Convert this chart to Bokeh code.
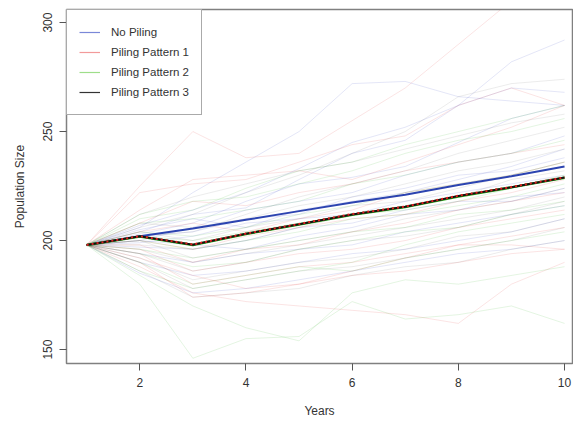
from bokeh.plotting import figure
from bokeh.models import FixedTicker, Legend, LegendItem, Range1d
from bokeh.embed import file_html
from bokeh.resources import INLINE
import numpy as np

years = [1, 2, 3, 4, 5, 6, 7, 8, 9, 10]

# Mean trajectories
mean_no_piling = [198, 202, 205.5, 209.5, 213.5, 217.5, 221, 225.5, 229.5, 234]
mean_pattern1 = [198, 202, 198.2, 203.2, 207.6, 212.2, 215.6, 220.6, 224.6, 229]
mean_pattern2 = [198, 201.8, 198, 203, 207.4, 211.8, 215.4, 220.2, 224.4, 228.8]
mean_pattern3 = [198, 202, 198.1, 203.1, 207.5, 212, 215.5, 220.4, 224.5, 228.9]

# Individual simulation runs (faint lines)
runs_no_piling = [
    [198, 207, 214, 222, 233, 245, 252, 262, 282, 292],
    [198, 204, 212, 215, 228, 240, 246, 262, 270, 268],
    [198, 203, 208, 218, 226, 229, 234, 245, 256, 262],
    [198, 200, 206, 214, 218, 222, 230, 236, 240, 248],
    [198, 202, 204, 210, 212, 220, 224, 230, 232, 238],
    [198, 205, 210, 206, 214, 218, 222, 228, 234, 242],
    [198, 199, 202, 208, 210, 212, 218, 222, 226, 230],
    [198, 197, 196, 200, 206, 208, 214, 218, 218, 224],
    [198, 200, 198, 196, 202, 206, 212, 214, 220, 222],
    [198, 194, 190, 194, 196, 198, 204, 208, 212, 216],
    [198, 190, 184, 186, 190, 194, 196, 200, 204, 210],
    [198, 185, 176, 178, 182, 186, 190, 194, 196, 200],
    [198, 206, 222, 236, 250, 272, 273, 266, 264, 262],
]
runs_pattern1 = [
    [198, 225, 250, 238, 240, 255, 270, 290, 310, 330],
    [198, 222, 226, 228, 236, 244, 248, 262, 270, 262],
    [198, 214, 228, 230, 232, 228, 236, 244, 252, 262],
    [198, 208, 218, 216, 222, 226, 232, 236, 240, 244],
    [198, 204, 208, 204, 210, 214, 222, 226, 230, 236],
    [198, 200, 196, 202, 206, 210, 212, 218, 222, 228],
    [198, 198, 190, 196, 198, 204, 208, 214, 218, 222],
    [198, 196, 186, 190, 194, 196, 200, 206, 210, 214],
    [198, 194, 180, 184, 188, 190, 194, 198, 202, 206],
    [198, 190, 174, 176, 180, 184, 186, 190, 194, 196],
    [198, 188, 176, 172, 170, 168, 166, 162, 180, 190],
    [198, 192, 184, 178, 180, 186, 192, 198, 198, 196],
]
runs_pattern2 = [
    [198, 180, 146, 155, 156, 172, 164, 166, 170, 162],
    [198, 184, 170, 160, 154, 176, 182, 180, 184, 188],
    [198, 190, 180, 184, 188, 186, 192, 196, 200, 204],
    [198, 194, 188, 190, 196, 200, 204, 206, 212, 216],
    [198, 200, 196, 200, 204, 210, 212, 216, 220, 226],
    [198, 204, 202, 206, 212, 216, 222, 226, 230, 236],
    [198, 208, 210, 214, 218, 226, 230, 236, 240, 246],
    [198, 212, 218, 220, 226, 232, 240, 246, 250, 256],
    [198, 196, 192, 196, 200, 204, 206, 212, 214, 218],
    [198, 202, 200, 204, 208, 212, 214, 218, 224, 230],
    [198, 186, 178, 182, 186, 190, 198, 204, 208, 212],
    [198, 210, 214, 224, 232, 236, 244, 250, 256, 262],
]
runs_pattern3 = [
    [198, 206, 212, 222, 230, 240, 250, 266, 272, 274],
    [198, 202, 204, 212, 220, 226, 232, 240, 246, 252],
    [198, 198, 196, 200, 206, 212, 216, 220, 228, 232],
    [198, 194, 186, 190, 196, 200, 202, 206, 212, 218],
    [198, 190, 178, 182, 186, 188, 192, 196, 200, 206],
    [198, 200, 192, 196, 200, 204, 210, 214, 218, 224],
    [198, 204, 200, 206, 210, 216, 218, 224, 230, 236],
    [198, 196, 190, 194, 198, 202, 206, 210, 214, 220],
    [198, 208, 206, 210, 216, 220, 226, 232, 236, 242],
    [198, 186, 174, 176, 178, 184, 188, 190, 196, 200],
    [198, 212, 220, 226, 232, 236, 242, 248, 254, 258],
    [198, 192, 182, 186, 190, 192, 196, 202, 204, 210],
]

legend_labels = ["No Piling", "Piling Pattern 1", "Piling Pattern 2", "Piling Pattern 3"]
x_ticks = [2, 4, 6, 8, 10]
y_ticks = [150, 200, 250, 300]

FONT = "Liberation Sans"
TXT = "#333333"

p = figure(width=573, height=421, output_backend="svg", toolbar_location=None,
           x_range=Range1d(0.62, 10.15), y_range=Range1d(143.6, 306.0),
           min_border_left=66, min_border_right=1, min_border_top=9, min_border_bottom=58)
p.background_fill_color = "white"
p.border_fill_color = "white"
p.grid.visible = False
p.outline_line_color = "#808080"
p.outline_line_width = 1.5

for ax in (p.xaxis[0], p.yaxis[0]):
    ax.axis_line_color = None
    ax.major_tick_line_color = "#555555"
    ax.major_tick_line_width = 1
    ax.major_tick_out = 7
    ax.major_tick_in = 0
    ax.minor_tick_line_color = None
    ax.major_label_text_font = FONT
    ax.major_label_text_font_size = "12px"
    ax.major_label_text_color = TXT
    ax.axis_label_text_font = FONT
    ax.axis_label_text_font_size = "12px"
    ax.axis_label_text_color = TXT
    ax.axis_label_text_font_style = "normal"

p.xaxis.ticker = FixedTicker(ticks=x_ticks)
p.yaxis.ticker = FixedTicker(ticks=y_ticks)
p.xaxis.major_label_standoff = 7
p.yaxis.major_label_standoff = 7
p.yaxis.major_label_orientation = "vertical"
p.xaxis.axis_label = "Years"
p.yaxis.axis_label = "Population Size"
p.xaxis.axis_label_standoff = 14
p.yaxis.axis_label_standoff = 14

# faint runs
for runs, col, a in [(runs_no_piling, "#3040c0", 0.13), (runs_pattern1, "#e03030", 0.13),
                     (runs_pattern2, "#30b020", 0.13), (runs_pattern3, "#404040", 0.10)]:
    for r in runs:
        p.line(years, r, line_color=col, line_alpha=a, line_width=1)

# mean lines
p.line(years, mean_no_piling, line_color="#2c44b0", line_width=2)
p.line(years, mean_pattern2, line_color="#30b020", line_width=2.5)
p.line(years, mean_pattern3, line_color="#111111", line_width=2)
p.line(years, mean_pattern1, line_color="#e02020", line_width=2, line_dash="2 3")

# legend proxies (a single NaN point, nothing drawn on the plot)
leg_cols = ["#7a88d8", "#f29a9a", "#9ede8a", "#333333"]
items = []
for lab, c in zip(legend_labels, leg_cols):
    r = p.line([np.nan], [np.nan], line_color=c, line_width=1.2)
    items.append(LegendItem(label=lab, renderers=[r]))

leg = Legend(items=items, location="top_left")
leg.margin = 0
leg.padding = 12
leg.spacing = 0
leg.glyph_width = 21
leg.glyph_height = 12
leg.label_height = 20
leg.label_standoff = 11
leg.label_text_font = FONT
leg.label_text_font_size = "11.5px"
leg.label_text_color = TXT
leg.border_line_color = "#555555"
leg.border_line_width = 1
leg.background_fill_color = "white"
leg.background_fill_alpha = 1
p.add_layout(leg)

open("out.html", "w").write(file_html(p, INLINE))
